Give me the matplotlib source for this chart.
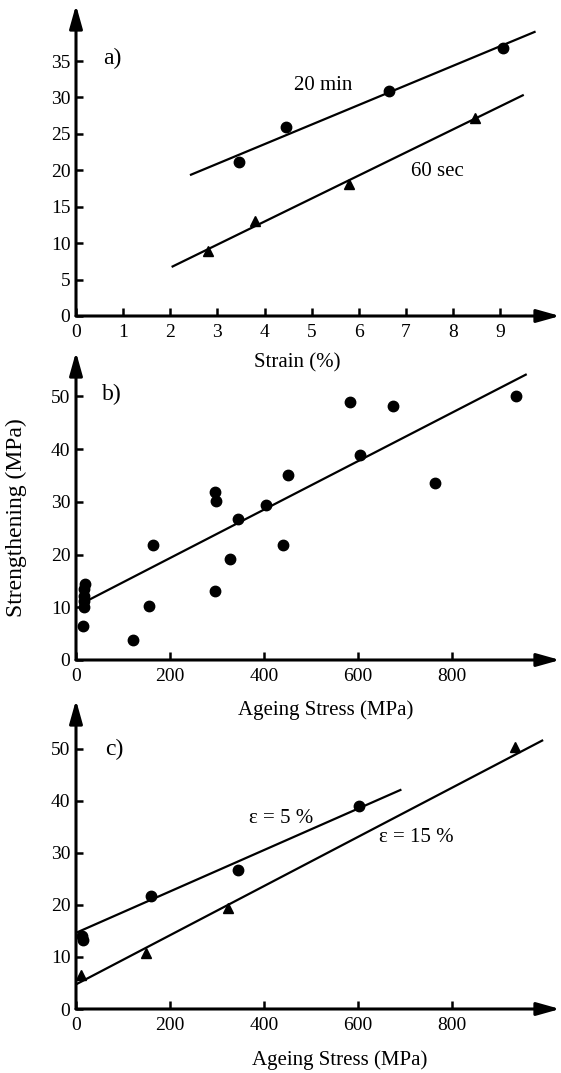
import matplotlib
matplotlib.use("Agg")
import matplotlib.pyplot as plt

plt.rcParams['font.family'] = ['Liberation Serif', 'DejaVu Serif']

# ---- panel a data (Strain %, Strengthening MPa)
a_circ_x = [3.45, 4.46, 6.64, 9.07]
a_circ_y = [21.1, 26.0, 30.9, 36.8]
a_tri_x = [2.81, 3.80, 5.79, 8.47]
a_tri_y = [8.9, 13.0, 18.1, 27.2]
a_line20_x = [2.44, 9.73]
a_line20_y = [19.4, 39.0]
a_line60_x = [2.05, 9.48]
a_line60_y = [6.8, 30.3]
a_xticks = [0, 1, 2, 3, 4, 5, 6, 7, 8, 9]
a_yticks = [0, 5, 10, 15, 20, 25, 30, 35]

# ---- panel b data (Ageing stress MPa, Strengthening MPa)
b_x = [15, 17, 17, 18, 18, 19, 121, 156, 164, 296, 296, 299, 328, 345,
       405, 441, 452, 583, 606, 675, 765, 938]
b_y = [6.5, 10.0, 11.2, 12.2, 13.4, 14.4, 3.7, 10.3, 21.8, 13.0, 31.8, 30.1,
       19.2, 26.7, 29.4, 21.9, 35.0, 48.9, 38.8, 48.1, 33.6, 50.1]
b_line_x = [10, 958]
b_line_y = [10.6, 54.1]
bc_xticks = [0, 200, 400, 600, 800]
bc_yticks = [0, 10, 20, 30, 40, 50]

# ---- panel c data
c_circ_x = [12, 14, 160, 345, 603]
c_circ_y = [14.0, 13.2, 21.8, 26.7, 39.0]
c_tri_x = [10, 150, 324, 935]
c_tri_y = [6.5, 10.7, 19.5, 50.4]
c_line5_x = [1.5, 691]
c_line5_y = [14.7, 42.1]
c_line15_x = [1.5, 993]
c_line15_y = [4.8, 51.6]

W, H = 561, 1073
fig = plt.figure(figsize=(W / 100, H / 100), dpi=100)

def px_axes(left, right, top, bottom):
    return fig.add_axes([left / W, 1 - bottom / H, (right - left) / W, (bottom - top) / H])

ax_a = px_axes(76, 560, 5, 316)
ax_b = px_axes(76, 560, 352, 660)
ax_c = px_axes(76, 560, 700, 1009)

LW = 1.6
TICK_FS = 14
MS = 7.5

def style(ax, xlim, ylim, xticks, yticks):
    ax.set_xlim(*xlim)
    ax.set_ylim(*ylim)
    for s in ax.spines.values():
        s.set_visible(False)
    ax.set_xticks(xticks)
    ax.set_yticks(yticks)
    ax.tick_params(axis='x', direction='in', length=6, width=1.8, pad=6, labelsize=TICK_FS)
    ax.tick_params(axis='y', direction='in', length=5, width=1.8, pad=4, labelsize=TICK_FS)
    ax.patch.set_alpha(0)
    arrow = dict(arrowstyle='-|>,head_length=1.0,head_width=0.28', lw=2.2,
                 color='black', mutation_scale=14, shrinkA=0, shrinkB=0)
    ax.annotate('', xy=(1, 0), xytext=(0, 0), xycoords='axes fraction',
                textcoords='axes fraction', arrowprops=arrow, annotation_clip=False)
    ax.annotate('', xy=(0, 1), xytext=(0, 0), xycoords='axes fraction',
                textcoords='axes fraction', arrowprops=arrow, annotation_clip=False)

# panel a
style(ax_a, (0, 10.27), (0, 42.7), a_xticks, a_yticks)
ax_a.plot(a_line20_x, a_line20_y, color='black', lw=LW)
ax_a.plot(a_line60_x, a_line60_y, color='black', lw=LW)
ax_a.plot(a_circ_x, a_circ_y, 'o', color='black', ms=MS)
ax_a.plot(a_tri_x, a_tri_y, '^', color='black', ms=MS)
ax_a.text(0.76, 35.3, 'a)', fontsize=17, ha='center', va='center')
ax_a.text(5.24, 31.7, '20 min', fontsize=15, ha='center', va='center')
ax_a.text(7.67, 19.9, '60 sec', fontsize=15, ha='center', va='center')

# panel b
style(ax_b, (0, 1031), (0, 58.4), bc_xticks, bc_yticks)
ax_b.plot(b_line_x, b_line_y, color='black', lw=LW)
ax_b.plot(b_x, b_y, 'o', color='black', ms=MS)
ax_b.text(77, 50.3, 'b)', fontsize=17, ha='center', va='center')

# panel c
style(ax_c, (0, 1031), (0, 59.4), bc_xticks, bc_yticks)
ax_c.plot(c_line5_x, c_line5_y, color='black', lw=LW)
ax_c.plot(c_line15_x, c_line15_y, color='black', lw=LW)
ax_c.plot(c_circ_x, c_circ_y, 'o', color='black', ms=MS)
ax_c.plot(c_tri_x, c_tri_y, '^', color='black', ms=MS)
ax_c.text(82, 49.9, 'c)', fontsize=17, ha='center', va='center')
ax_c.text(436, 36.6, 'ε = 5 %', fontsize=15, ha='center', va='center')
ax_c.text(725, 32.9, 'ε = 15 %', fontsize=15, ha='center', va='center')

# axis labels
fig.text(297 / W, 1 - 363 / H, 'Strain (%)', fontsize=15, ha='center', va='center')
fig.text(326 / W, 1 - 710 / H, 'Ageing Stress (MPa)', fontsize=15, ha='center', va='center')
fig.text(340 / W, 1 - 1060 / H, 'Ageing Stress (MPa)', fontsize=15, ha='center', va='center')
fig.text(16 / W, 1 - 518 / H, 'Strengthening (MPa)', fontsize=17, ha='center', va='center',
         rotation=90)

fig.savefig('out.png', dpi=100)
